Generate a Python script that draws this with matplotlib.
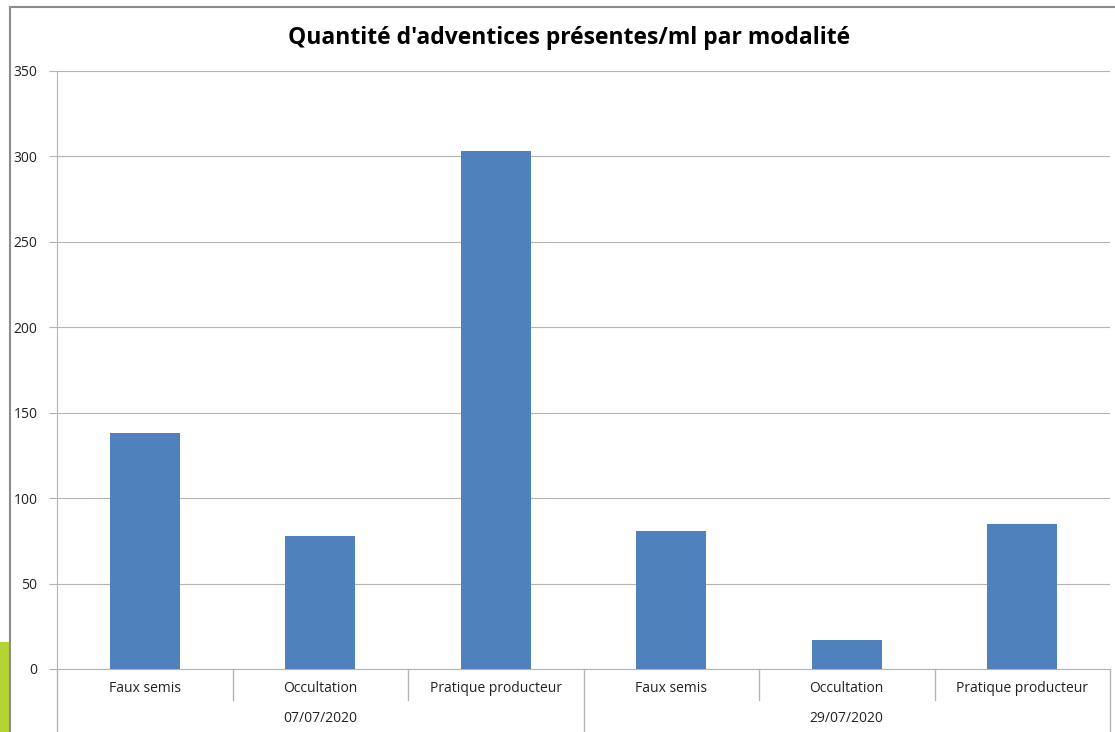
import matplotlib.pyplot as plt
import matplotlib.patches as patches
import matplotlib.lines as mlines
import numpy as np

# data
dates = ['07/07/2020', '29/07/2020']
modalites = ['Faux semis', 'Occultation', 'Pratique producteur']
valeurs = [138, 78, 303, 81, 17, 85]
yticks = [0, 50, 100, 150, 200, 250, 300, 350]

W, H = 1115, 732
fig = plt.figure(figsize=(W / 100, H / 100), dpi=100)
plt.rcParams['font.family'] = ['Open Sans', 'DejaVu Sans']

# chart frame + green strip on the left
fig.add_artist(patches.Rectangle((0, 0), 9 / W, 90 / H, transform=fig.transFigure,
                                 color='#b5d334', lw=0))
fig.add_artist(mlines.Line2D([9.5 / W, 9.5 / W], [0, 1 - 7 / H], transform=fig.transFigure,
                             color='#8c8c8c', lw=1.5))
fig.add_artist(mlines.Line2D([9.5 / W, 1], [1 - 7 / H, 1 - 7 / H], transform=fig.transFigure,
                             color='#8c8c8c', lw=1.5))

left, right, top, bottom = 57, 1110, 71, 669
ax = fig.add_axes([left / W, 1 - bottom / H, (right - left) / W, (bottom - top) / H])

labels = modalites * len(dates)
x = np.arange(len(labels))
ax.bar(x, valeurs, width=0.4, color='#4f81bd', zorder=3)

ax.set_xlim(-0.5, len(labels) - 0.5)
ax.set_ylim(0, 350)
ax.set_yticks(yticks)
ax.set_yticklabels([str(v) for v in yticks], fontsize=10, color='#222222')
ax.tick_params(axis='y', length=6, color='#b4b4b4', pad=8)
ax.yaxis.grid(True, color='#b4b4b4', lw=0.8, zorder=0)
ax.set_xticks([])

for s in ['top', 'right']:
    ax.spines[s].set_visible(False)
ax.spines['left'].set_color('#b4b4b4')
ax.spines['bottom'].set_color('#b4b4b4')

# category labels and separators below the axis
trans = ax.get_xaxis_transform()
px = 1 / (bottom - top)
for i, lab in enumerate(labels):
    ax.text(i, -19 * px, lab, transform=trans, ha='center', va='center',
            fontsize=10, color='#222222')
for i in range(len(labels) + 1):
    xs = i - 0.5
    if i % len(modalites) == 0:
        y0 = -(H - bottom) * px
    else:
        y0 = -31 * px
    ax.add_line(mlines.Line2D([xs, xs], [0, y0], transform=trans, color='#b4b4b4',
                              lw=1, clip_on=False))
for j, d in enumerate(dates):
    xc = j * len(modalites) + (len(modalites) - 1) / 2
    ax.text(xc, -49 * px, d, transform=trans, ha='center', va='center',
            fontsize=10, color='#222222')

fig.text(569 / W, 1 - 38 / H, "Quantité d'adventices présentes/ml par modalité",
         ha='center', va='center', fontsize=16.5, fontweight='bold', color='black')

fig.savefig('out.png', dpi=100)
